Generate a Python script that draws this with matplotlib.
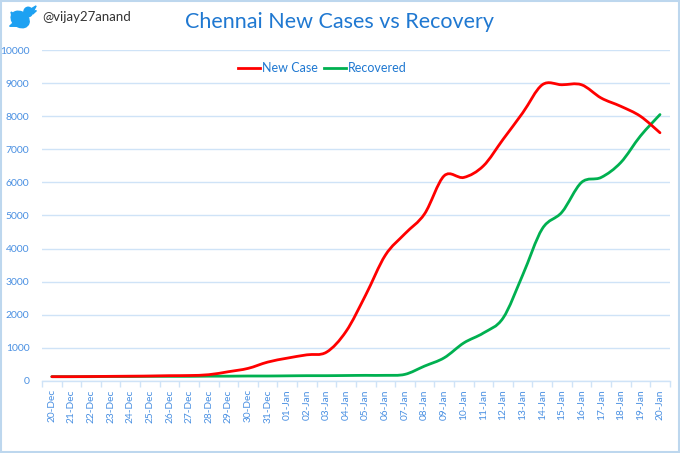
import numpy as np
import matplotlib
matplotlib.use('Agg')
import matplotlib.pyplot as plt
from matplotlib.path import Path
from matplotlib.patches import PathPatch, Rectangle, Ellipse, Polygon
from matplotlib.lines import Line2D

# data
dates = ['20-Dec', '21-Dec', '22-Dec', '23-Dec', '24-Dec', '25-Dec', '26-Dec', '27-Dec',
         '28-Dec', '29-Dec', '30-Dec', '31-Dec', '01-Jan', '02-Jan', '03-Jan', '04-Jan',
         '05-Jan', '06-Jan', '07-Jan', '08-Jan', '09-Jan', '10-Jan', '11-Jan', '12-Jan',
         '13-Jan', '14-Jan', '15-Jan', '16-Jan', '17-Jan', '18-Jan', '19-Jan', '20-Jan']
new_cases = [130, 130, 135, 140, 145, 150, 160, 165, 190, 280, 380, 570, 690, 790, 870, 1500,
             2600, 3800, 4450, 5050, 6200, 6150, 6500, 7300, 8100, 8950, 8950, 8950, 8550,
             8300, 8000, 7500]
recovered = [130, 130, 130, 135, 135, 140, 140, 140, 145, 145, 150, 150, 155, 160, 160, 165,
             170, 170, 200, 450, 700, 1150, 1450, 1900, 3200, 4600, 5100, 6000, 6150,
             6600, 7400, 8050]

blue_txt = '#1F78D1'
tick_col = '#4A90E2'
grid_col = '#CFE3F7'

plt.rcParams['font.family'] = ['Lato', 'DejaVu Sans']


def smooth_path(x, y):
    # Excel-like smoothed line: cubic bezier through the data points
    verts = [(x[0], y[0])]
    codes = [Path.MOVETO]
    n = len(x)
    for i in range(n - 1):
        x0, y0 = x[max(i - 1, 0)], y[max(i - 1, 0)]
        x3, y3 = x[min(i + 2, n - 1)], y[min(i + 2, n - 1)]
        c1 = (x[i] + (x[i + 1] - x0) / 6, y[i] + (y[i + 1] - y0) / 6)
        c2 = (x[i + 1] - (x3 - x[i]) / 6, y[i + 1] - (y3 - y[i]) / 6)
        verts += [c1, c2, (x[i + 1], y[i + 1])]
        codes += [Path.CURVE4] * 3
    return Path(verts, codes)


fig = plt.figure(figsize=(6.8, 4.53), dpi=100)
ax = fig.add_axes([0.0618, 0.159, 0.9232, 0.7306])

xs = np.arange(len(dates))
ax.add_patch(PathPatch(smooth_path(xs, recovered), fill=False, edgecolor='#00B050', lw=2.0,
                       capstyle='round', zorder=3))
ax.add_patch(PathPatch(smooth_path(xs, new_cases), fill=False, edgecolor='#FF0000', lw=2.0,
                       capstyle='round', zorder=3))

ax.set_xlim(-0.5, len(dates) - 0.5)
ax.set_ylim(0, 10000)
ax.set_yticks(np.arange(0, 10001, 1000))
ax.set_xticks(xs)
ax.set_xticklabels(dates, rotation=90, fontsize=7.3, color=tick_col)
ax.set_xticks(np.arange(-0.5, len(dates), 1), minor=True)
ax.tick_params(axis='x', which='major', length=0, pad=6)
ax.tick_params(axis='x', which='minor', length=4, color=grid_col, width=1)
ax.tick_params(axis='y', length=0, labelsize=7.5, labelcolor=tick_col, pad=9)
ax.grid(axis='y', color=grid_col, lw=1)
ax.set_axisbelow(True)
for s in ['top', 'right', 'left']:
    ax.spines[s].set_visible(False)
ax.spines['bottom'].set_color(grid_col)
ax.spines['bottom'].set_linewidth(1)

handles = [Line2D([], [], color='#FF0000', lw=2.0), Line2D([], [], color='#00B050', lw=2.0)]
ax.legend(handles, ['New Case', 'Recovered'], loc='center', bbox_to_anchor=(0.446, 0.946),
          ncol=2, frameon=False, fontsize=9, labelcolor=blue_txt, handlelength=1.8,
          columnspacing=0.5, handletextpad=0.1)

fig.text(0.499, 0.952, 'Chennai New Cases vs Recovery', ha='center', va='center',
         fontsize=15.5, color=blue_txt)
fig.text(0.062, 0.962, '@vijay27anand', ha='left', va='center', fontsize=9.5, color='#333333')

# simple twitter bird
bird = fig.add_axes([0.012, 0.93, 0.042, 0.06])
bird.set_xlim(0, 10)
bird.set_ylim(0, 8)
bird.axis('off')
bc = '#1DA1F2'
bird.add_patch(Ellipse((4.2, 3.6), 6.5, 4.6, angle=-20, color=bc))
bird.add_patch(Ellipse((7.0, 5.8), 3.0, 2.8, color=bc))
bird.add_patch(Polygon([(8.2, 6.8), (9.8, 7.6), (8.8, 6.0)], color=bc))
bird.add_patch(Polygon([(8.4, 6.0), (9.9, 6.2), (8.6, 5.2)], color=bc))
bird.add_patch(Polygon([(1.0, 5.8), (3.5, 4.5), (1.5, 3.8)], color=bc))
bird.add_patch(Polygon([(0.5, 1.6), (3.0, 1.6), (2.0, 2.8)], color=bc))

fig.patches.append(Rectangle((0.002, 0.003), 0.996, 0.994, transform=fig.transFigure,
                             fill=False, edgecolor='#BDD7EE', lw=1.5))

fig.savefig('out.png', dpi=100)
